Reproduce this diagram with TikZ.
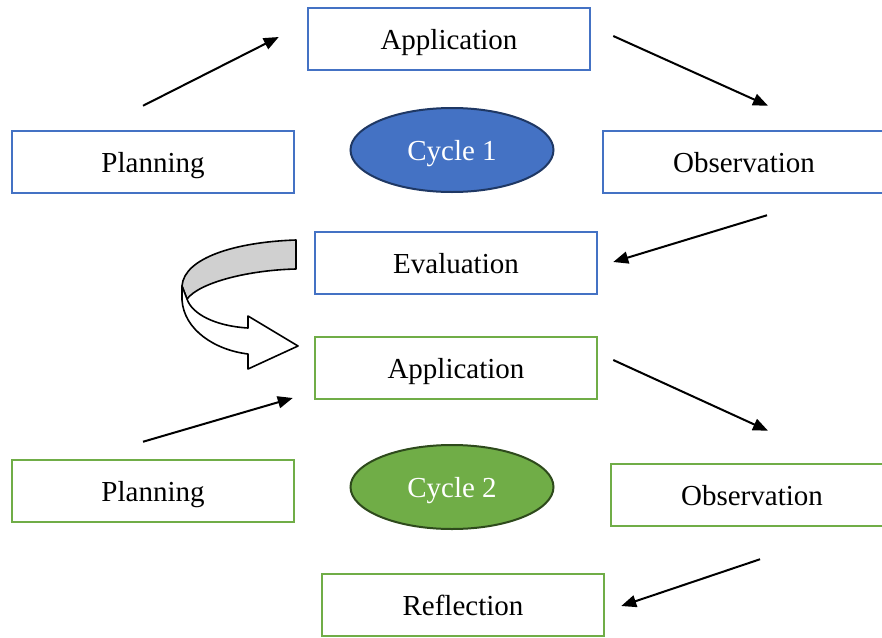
\documentclass[tikz,border=0pt]{standalone}
\usepackage{fontspec}
\setmainfont{Liberation Serif}
\usetikzlibrary{arrows.meta,shapes.geometric}
\definecolor{cblue}{HTML}{4472C4}
\definecolor{cgreen}{HTML}{70AD47}
\definecolor{dblue}{HTML}{1F3864}
\definecolor{dgreen}{HTML}{2E4A1C}
\definecolor{band}{HTML}{D0D0D0}
\tikzset{
  txt/.style={font=\fontsize{29}{34}\selectfont, text height=25pt, text depth=4pt},
  box/.style={draw, line width=2.5pt, fill=white, minimum width=282pt, minimum height=62pt, inner sep=0pt, txt},
  bbox/.style={box, draw=cblue},
  gbox/.style={box, draw=cgreen},
  cyc/.style={ellipse, draw, line width=2pt, minimum width=203pt, minimum height=84pt, inner sep=0pt, text=white, txt},
  conn/.style={line width=2pt, -{Triangle[length=15pt,width=12pt]}},
  ribbon/.style={draw=black, line width=1.6pt, line join=round}
}
\begin{document}
\begin{tikzpicture}[x=1pt,y=-1pt]
\clip (0,0) rectangle (882,637);
\fill[white] (0,0) rectangle (882,637);
% cycle 1
\node[bbox] (app1) at (449,39) {Application};
\node[bbox] (plan1) at (153,162) {Planning};
\node[cyc, fill=cblue, draw=dblue] (c1) at (452,150) {Cycle 1};
\node[bbox] (obs1) at (744,162) {Observation};
\node[bbox] (eval) at (456,263) {Evaluation};
% cycle 2
\node[gbox] (app2) at (456,368) {Application};
\node[gbox] (plan2) at (153,491) {Planning};
\node[cyc, fill=cgreen, draw=dgreen] (c2) at (452,487) {Cycle 2};
\node[gbox] (obs2) at (752,495) {Observation};
\node[gbox] (refl) at (463,605) {Reflection};
% connectors
\draw[conn] ([shift={(-10,-24)}]plan1.north) -- ([shift={(-28,-2)}]app1.west);
\draw[conn] ([shift={(22,-3)}]app1.east) -- ([shift={(24,-24)}]obs1.north);
\draw[conn] ([shift={(23,21)}]obs1.south) -- ([shift={(15,-1)}]eval.east);
\draw[conn] ([shift={(-10,-17)}]plan2.north) -- ([shift={(-21,30)}]app2.west);
\draw[conn] ([shift={(15,-8)}]app2.east) -- ([shift={(16,-32)}]obs2.north);
\draw[conn] ([shift={(8,32)}]obs2.south) -- ([shift={(16,1)}]refl.east);
% curved ribbon arrow
\path[ribbon, fill=band] (296,240) .. controls (235,242) and (184,258) .. (182,286)
  -- (187,299) .. controls (200,282) and (250,270) .. (296,269) -- cycle;
\path[ribbon, fill=white] (182,286) -- (182,300)
  .. controls (184,330) and (215,350) .. (248,354)
  -- (248,369) -- (298,346) -- (248,316) -- (248,328)
  .. controls (215,326) and (192,314) .. (187,299) -- cycle;
\end{tikzpicture}
\end{document}
